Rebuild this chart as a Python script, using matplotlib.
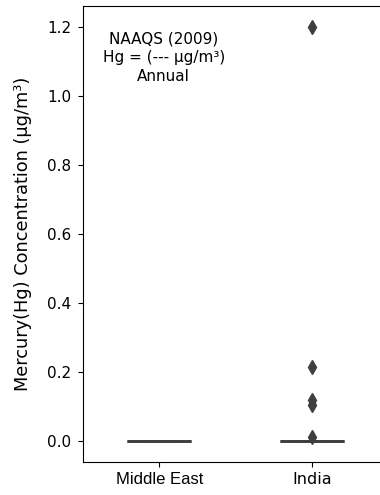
import matplotlib
matplotlib.use("Agg")
import matplotlib.pyplot as plt

categories = ["Middle East", "India"]
middle_east = [0.0] * 12
india = [0.0] * 20 + [0.012, 0.105, 0.12, 0.215, 1.2]
yticks = [0.0, 0.2, 0.4, 0.6, 0.8, 1.0, 1.2]

gray = "#3f3f3f"
fig = plt.figure(figsize=(3.8, 4.95), dpi=100)
ax = fig.add_axes([0.218, 0.0667, 0.804, 0.9213])

ax.boxplot([middle_east, india], positions=[0, 1], widths=0.42,
           patch_artist=True,
           boxprops=dict(facecolor="#8c8c8c", edgecolor=gray, linewidth=2),
           medianprops=dict(color=gray, linewidth=2),
           whiskerprops=dict(color=gray, linewidth=2),
           capprops=dict(color=gray, linewidth=2),
           flierprops=dict(marker="d", markerfacecolor=gray, markeredgecolor=gray,
                           markersize=7.5, linestyle="none"))

ax.set_xlim(-0.5, 1.5)
ax.set_ylim(-0.06, 1.26)
ax.set_xticks([0, 1])
ax.set_xticklabels(categories, fontsize=11.5)
xl = ax.get_xticklabels()
xl[0].set_fontfamily("Liberation Sans")
xl[0].set_fontsize(12)
ax.set_yticks(yticks)
ax.set_yticklabels([f"{v:.1f}" for v in yticks], fontsize=11)
ax.tick_params(axis="y", pad=5)
ax.set_ylabel("Mercury(Hg) Concentration (µg/m³)", fontsize=12.8)
ax.yaxis.set_label_coords(-0.165, 0.5)
ax.text(0.03, 1.11, "NAAQS (2009)\nHg = (--- µg/m³)\nAnnual", ha="center", va="center",
        fontsize=11, linespacing=1.3)

fig.savefig("out.png", dpi=100)
